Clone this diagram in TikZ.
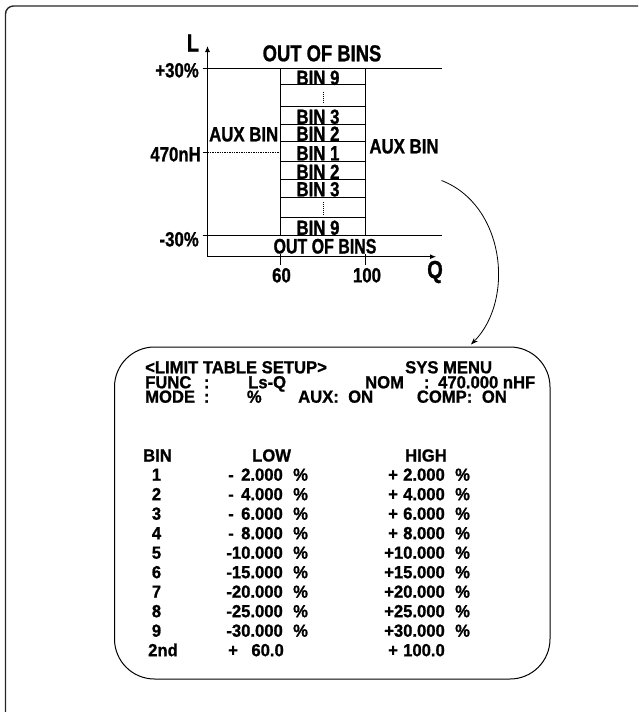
\documentclass[tikz,border=0pt]{standalone}
\usepackage{fontspec}
\newfontfamily\cfM{Liberation Sans Bold}[FakeStretch=0.95, FakeBold=1]
\newfontfamily\cfA{Liberation Sans Bold}[FakeStretch=0.82, FakeBold=1]
\newfontfamily\cfB{Liberation Sans Bold}[FakeStretch=0.80, FakeBold=1]
\newfontfamily\cfC{Liberation Sans Bold}[FakeStretch=0.76, FakeBold=1]
\usetikzlibrary{arrows.meta}
\begin{document}
\begin{tikzpicture}[x=1pt,y=-1pt,
  lbl/.style={inner sep=0pt, text height=14.7pt, text depth=0pt, font={\cfA\fontsize{20.5}{20.5}\selectfont}},
  bigl/.style={inner sep=0pt, text height=16.5pt, text depth=0pt, font={\cfB\fontsize{23}{23}\selectfont}},
  smll/.style={inner sep=0pt, text height=15pt, text depth=0pt, font={\cfC\fontsize{21}{21}\selectfont}},
  axl/.style={inner sep=0pt, font={\cfB\fontsize{25}{25}\selectfont}},
  mt/.style={inner sep=0pt, text height=12.5pt, text depth=0pt, anchor=base west, font={\cfM\fontsize{17.5}{17.5}\selectfont}},
  me/.style={mt, anchor=base east},
  mc/.style={mt, anchor=base},
  pl/.style={line width=0.9pt},
  dotv/.style={line width=0.6pt, dash pattern=on 1pt off 1pt}
]
\useasboundingbox (0,0) rectangle (638,712);
% outer frame (top and left only)
\draw[line width=1.4pt, draw=black!85, rounded corners=8pt] (5.5,712) -- (5.5,6) -- (638,6);

% ---------- plot ----------
\coordinate (O) at (207.5,256.7);
\coordinate (Ytop) at (207.5,46);
\coordinate (Xend) at (436,256.7);
\draw[pl, -{Latex[length=6pt,width=5pt]}] (O) -- (Ytop);
\draw[pl, -{Latex[length=6pt,width=5pt]}] (O) -- (Xend);
\node[axl] (L) at (193,43) {L};
\node[axl] (Q) at (435,272) {Q};

% limit lines
\draw[pl] (202.5,68.3) -- (442,68.3);
\draw[pl] (202.5,235) -- (442,235);
\draw[pl] (202.5,152.3) -- (207.5,152.3);
\draw[line width=0.7pt, dash pattern=on 1.4pt off 1pt] (207.5,152.3) -- (280.7,152.3);

% bins box
\draw[pl] (280.7,68.3) -- (280.7,235);
\draw[pl] (365.7,68.3) -- (365.7,235);
\foreach \yy in {84,106.7,124,141.7,161.7,179.3,197.3,217.3}
  \draw[pl] (280.7,\yy) -- (365.7,\yy);
\draw[dotv] (323.3,91.5) -- (323.3,102);
\draw[dotv] (323.3,202) -- (323.3,215);

% ticks on Q axis
\draw[pl] (280.7,254) -- (280.7,264.5);
\draw[pl] (365.7,254) -- (365.7,264.5);
\node[lbl] (q60) at (281.5,275) {60};
\node[lbl] (q100) at (367,275) {100};

% y labels
\node[lbl, anchor=east] (p30) at (199,70) {+30\%};
\node[lbl, anchor=east] (nom) at (201,154) {470nH};
\node[lbl, anchor=east] (m30) at (199,239) {-30\%};

% bin labels
\node[bigl] (oobT) at (322,53) {OUT OF BINS};
\node[smll] (oobB) at (325,246) {OUT OF BINS};
\node[lbl] (b9t) at (318,77.5) {BIN 9};
\node[lbl] (b3t) at (318,116.5) {BIN 3};
\node[lbl] (b2t) at (318,133.5) {BIN 2};
\node[lbl] (b1) at (318,153) {BIN 1};
\node[lbl] (b2b) at (318,171.5) {BIN 2};
\node[lbl] (b3b) at (318,189) {BIN 3};
\node[lbl] (b9b) at (318,227.5) {BIN 9};
\node[lbl] (auxL) at (243.7,134) {AUX BIN};
\node[lbl] (auxR) at (404,146) {AUX BIN};

% curved arrow
\coordinate (cs) at (441.5,180.5);
\coordinate (ce) at (471,344.5);
\draw[line width=0.8pt, -{Stealth[length=7pt,width=5pt]}] (cs) .. controls (505,205) and (515,300) .. (ce);

% ---------- menu box ----------
\draw[line width=1pt, rounded corners=40pt] (114.5,347) rectangle (550,679);

\node[mt] (t1) at (145,373.3) {<LIMIT TABLE SETUP>};
\node[mt] (t2) at (405,373.3) {SYS MENU};
\node[mt] (f1) at (145,388.3) {FUNC};
\node[mc] (f2) at (206.7,388.3) {:};
\node[mt] (f3) at (248,388.3) {Ls-Q};
\node[mt] (f4) at (365,388.3) {NOM};
\node[mc] (f5) at (426.7,388.3) {:};
\node[mt] (f6) at (438,388.3) {470.000 nHF};
\node[mt] (m1) at (145,402.7) {MODE};
\node[mc] (m2) at (206.7,402.7) {:};
\node[mt] (m3) at (246.7,402.7) {\%};
\node[mt] (m4) at (298,402.7) {AUX:};
\node[mt] (m5) at (348,402.7) {ON};
\node[mt] (m6) at (416.7,402.7) {COMP:};
\node[mt] (m7) at (481.7,402.7) {ON};

\node[mt] (hbin) at (143,461.5) {BIN};
\node[mt] (hlow) at (252,461.5) {LOW};
\node[mt] (hhigh) at (405,461.5) {HIGH};

\foreach \n/\v [count=\k] in {1/2.000,2/4.000,3/6.000,4/8.000}{
  \pgfmathsetmacro{\yy}{480.7+19.5*(\k-1)}
  \node[mc] (n\k) at (156.5,\yy) {\n};
  \node[mt] (ls\k) at (228,\yy) {-};
  \node[me] (lv\k) at (283,\yy) {\v};
  \node[mt] (lp\k) at (293,\yy) {\%};
  \node[mt] (hs\k) at (388,\yy) {+};
  \node[me] (hv\k) at (445,\yy) {\v};
  \node[mt] (hp\k) at (455,\yy) {\%};
}
\foreach \n/\v [count=\j] in {5/10,6/15,7/20,8/25,9/30}{
  \pgfmathsetmacro{\yy}{480.7+19.5*(\j+3)}
  \node[mc] (n\n) at (156.5,\yy) {\n};
  \node[me] (lv\n) at (283,\yy) {-\v.000};
  \node[mt] (lp\n) at (293,\yy) {\%};
  \node[me] (hv\n) at (445,\yy) {+\v.000};
  \node[mt] (hp\n) at (455,\yy) {\%};
}
\node[mt] (n10) at (148,656.2) {2nd};
\node[mt] (ls10) at (228,656.2) {+};
\node[me] (lv10) at (284,656.2) {60.0};
\node[mt] (hs10) at (388,656.2) {+};
\node[me] (hv10) at (445,656.2) {100.0};
\end{tikzpicture}
\end{document}
